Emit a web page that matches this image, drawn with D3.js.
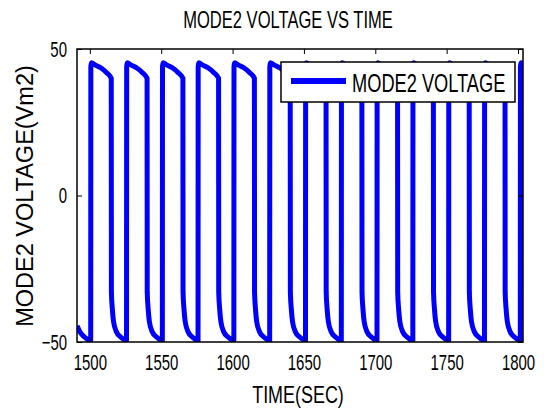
<!DOCTYPE html>
<html>
<head>
<meta charset="utf-8">
<script src="https://cdn.jsdelivr.net/npm/d3@7"></script>
<style>
  html, body { margin: 0; padding: 0; background: #fff; }
  svg { display: block; }
  text { font-family: "Liberation Sans", Arial, Helvetica, sans-serif; fill: #000; }
</style>
</head>
<body>
<svg id="chart" width="544" height="412"></svg>
<script>
// Mode-2 voltage trace, time in seconds
const timeSec = [
  1491.0, 1493.0, 1496.0,
  1500.6, 1500.7, 1501.1, 1503.6, 1507.6, 1511.6, 1515.0, 1515.1, 1515.8, 1516.6, 1518.6, 1521.6,
  1525.7, 1525.8, 1526.2, 1528.7, 1532.7, 1536.7, 1540.1, 1540.2, 1540.9, 1541.7, 1543.7, 1546.7,
  1550.8, 1550.9, 1551.3, 1553.8, 1557.8, 1561.8, 1565.2, 1565.3, 1566.0, 1566.8, 1568.8, 1571.8,
  1575.8, 1575.9, 1576.3, 1578.8, 1582.8, 1586.8, 1590.2, 1590.3, 1591.0, 1591.8, 1593.8, 1596.8,
  1600.9, 1601.0, 1601.4, 1603.9, 1607.9, 1611.9, 1615.3, 1615.4, 1616.1, 1616.9, 1618.9, 1621.9,
  1626.0, 1626.1, 1626.5, 1629.0, 1633.0, 1637.0, 1640.4, 1640.5, 1641.2, 1642.0, 1644.0, 1647.0,
  1651.1, 1651.2, 1651.6, 1654.1, 1658.1, 1662.1, 1665.5, 1665.6, 1666.3, 1667.1, 1669.1, 1672.1,
  1676.2, 1676.3, 1676.7, 1679.2, 1683.2, 1687.2, 1690.6, 1690.7, 1691.4, 1692.2, 1694.2, 1697.2,
  1701.2, 1701.3, 1701.7, 1704.2, 1708.2, 1712.2, 1715.6, 1715.7, 1716.4, 1717.2, 1719.2, 1722.2,
  1726.3, 1726.4, 1726.8, 1729.3, 1733.3, 1737.3, 1740.7, 1740.8, 1741.5, 1742.3, 1744.3, 1747.3,
  1751.4, 1751.5, 1751.9, 1754.4, 1758.4, 1762.4, 1765.8, 1765.9, 1766.6, 1767.4, 1769.4, 1772.4,
  1776.5, 1776.6, 1777.0, 1779.5, 1783.5, 1787.5, 1790.9, 1791.0, 1791.7, 1792.5, 1794.5, 1797.5,
  1801.6, 1801.7, 1802.1, 1803.5
];
const voltage = [
  -44.5, -46.5, -48.2,
  -49.5, 44, 45.3, 44.6, 43.6, 42.0, 40, -33, -39, -43, -46.5, -48.3,
  -49.5, 44, 45.3, 44.6, 43.6, 42.0, 40, -33, -39, -43, -46.5, -48.3,
  -49.5, 44, 45.3, 44.6, 43.6, 42.0, 40, -33, -39, -43, -46.5, -48.3,
  -49.5, 44, 45.3, 44.6, 43.6, 42.0, 40, -33, -39, -43, -46.5, -48.3,
  -49.5, 44, 45.3, 44.6, 43.6, 42.0, 40, -33, -39, -43, -46.5, -48.3,
  -49.5, 44, 45.3, 44.6, 43.6, 42.0, 40, -33, -39, -43, -46.5, -48.3,
  -49.5, 44, 45.3, 44.6, 43.6, 42.0, 40, -33, -39, -43, -46.5, -48.3,
  -49.5, 44, 45.3, 44.6, 43.6, 42.0, 40, -33, -39, -43, -46.5, -48.3,
  -49.5, 44, 45.3, 44.6, 43.6, 42.0, 40, -33, -39, -43, -46.5, -48.3,
  -49.5, 44, 45.3, 44.6, 43.6, 42.0, 40, -33, -39, -43, -46.5, -48.3,
  -49.5, 44, 45.3, 44.6, 43.6, 42.0, 40, -33, -39, -43, -46.5, -48.3,
  -49.5, 44, 45.3, 44.6, 43.6, 42.0, 40, -33, -39, -43, -46.5, -48.3,
  -49.5, 44, 45.3, 45.2
];
const xTicks = [1500, 1550, 1600, 1650, 1700, 1750, 1800];
const yTicks = [-50, 0, 50];
const xDomain = [1491, 1803.5];
const yDomain = [-50, 50];
const titleText = "MODE2 VOLTAGE VS TIME";
const xLabel = "TIME(SEC)";
const yLabel = "MODE2 VOLTAGE(Vm2)";
const seriesName = "MODE2 VOLTAGE";

const svg = d3.select("#chart");
const box = { left: 77, right: 523, top: 49, bottom: 342 };
const narrow = 0.68;   // condensed lettering for tick labels

const x = d3.scaleLinear().domain(xDomain).range([box.left, box.right]);
const y = d3.scaleLinear().domain(yDomain).range([box.bottom, box.top]);

const points = timeSec.map((t, i) => [t, voltage[i]]);

// plot area clip
svg.append("defs").append("clipPath").attr("id", "plotClip")
  .append("rect")
  .attr("x", box.left).attr("y", box.top)
  .attr("width", box.right - box.left).attr("height", box.bottom - box.top);

// trace
svg.append("path")
  .datum(points)
  .attr("clip-path", "url(#plotClip)")
  .attr("fill", "none")
  .attr("stroke", "#0000ff")
  .attr("stroke-width", 5)
  .attr("stroke-linejoin", "round")
  .attr("d", d3.line().x(d => x(d[0])).y(d => y(d[1])).curve(d3.curveMonotoneX));

// axes with inward ticks on all four sides
const tickLen = 5;
function styleAxis(g) {
  g.select(".domain").remove();
  g.selectAll(".tick line").attr("stroke", "#000").attr("stroke-width", 1);
}
const xBottom = svg.append("g").attr("transform", `translate(0,${box.bottom})`)
  .call(d3.axisBottom(x).tickValues(xTicks).tickFormat(d3.format("d")).tickSizeInner(-tickLen).tickSizeOuter(0).tickPadding(12));
styleAxis(xBottom);
xBottom.selectAll(".tick text")
  .attr("font-size", 22).attr("dy", "0.71em")
  .attr("transform", `scale(${narrow},1)`);

const xTop = svg.append("g").attr("transform", `translate(0,${box.top})`)
  .call(d3.axisTop(x).tickValues(xTicks).tickFormat("").tickSizeInner(-tickLen).tickSizeOuter(0));
styleAxis(xTop);

const yLeft = svg.append("g").attr("transform", `translate(${box.left},0)`)
  .call(d3.axisLeft(y).tickValues(yTicks).tickFormat(d3.format("d")).tickSizeInner(-tickLen).tickSizeOuter(0).tickPadding(14));
styleAxis(yLeft);
yLeft.selectAll(".tick text")
  .attr("font-size", 22)
  .attr("x", -10 / narrow)
  .attr("transform", `scale(${narrow},1)`);

const yRight = svg.append("g").attr("transform", `translate(${box.right},0)`)
  .call(d3.axisRight(y).tickValues(yTicks).tickFormat("").tickSizeInner(-tickLen).tickSizeOuter(0));
styleAxis(yRight);

// frame
svg.append("rect")
  .attr("x", box.left).attr("y", box.top)
  .attr("width", box.right - box.left).attr("height", box.bottom - box.top)
  .attr("fill", "none").attr("stroke", "#000").attr("stroke-width", 1.5);

// titles (condensed horizontally)
svg.append("text")
  .attr("transform", "translate(288,28) scale(0.72,1)")
  .attr("text-anchor", "middle")
  .attr("font-size", 23)
  .text(titleText);

svg.append("text")
  .attr("transform", "translate(298,403) scale(0.78,1)")
  .attr("text-anchor", "middle")
  .attr("font-size", 23)
  .text(xLabel);

svg.append("text")
  .attr("transform", "translate(33,196) rotate(-90)")
  .attr("text-anchor", "middle")
  .attr("font-size", 23.5)
  .text(yLabel);

// legend
const leg = { x0: 281, x1: 515, y0: 62, y1: 102 };
svg.append("rect")
  .attr("x", leg.x0).attr("y", leg.y0)
  .attr("width", leg.x1 - leg.x0).attr("height", leg.y1 - leg.y0)
  .attr("fill", "#fff").attr("stroke", "#000").attr("stroke-width", 1.5);
svg.append("line")
  .attr("x1", 291).attr("x2", 346)
  .attr("y1", 81).attr("y2", 81)
  .attr("stroke", "#0000ff").attr("stroke-width", 6);
svg.append("text")
  .attr("transform", "translate(352,92) scale(0.73,1)")
  .attr("font-size", 25)
  .text(seriesName);
</script>
</body>
</html>
